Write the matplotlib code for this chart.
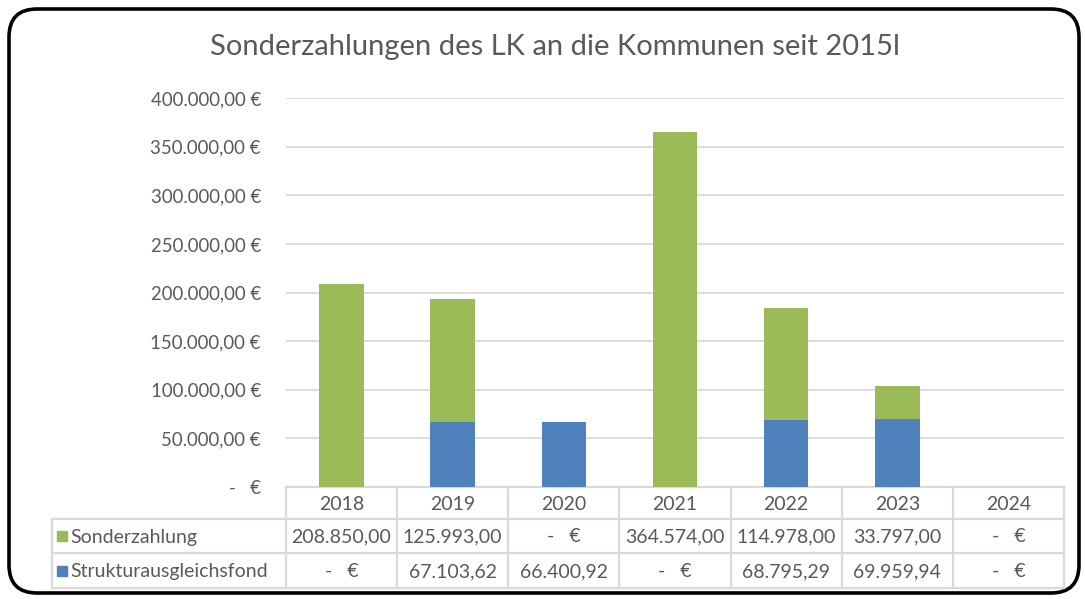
import matplotlib
matplotlib.use("Agg")
import matplotlib.pyplot as plt
from matplotlib.patches import FancyBboxPatch, Rectangle
from matplotlib.ticker import FuncFormatter

plt.rcParams['font.family'] = ['Lato', 'DejaVu Sans']

# Daten
jahre = ['2018', '2019', '2020', '2021', '2022', '2023', '2024']
sonderzahlung = [208850.00, 125993.00, 0, 364574.00, 114978.00, 33797.00, 0]
struktur = [0, 67103.62, 66400.92, 0, 68795.29, 69959.94, 0]
reihen = ['Sonderzahlung', 'Strukturausgleichsfond']
titel = 'Sonderzahlungen des LK an die Kommunen seit 2015l'

GRUEN = '#9BBB59'
BLAU = '#4F81BD'
TEXT = '#595959'
LINIE = '#D9D9D9'

W, H = 1085, 599


def de_zahl(v):
    s = f"{v:,.2f}"
    return s.replace(',', 'X').replace('.', ',').replace('X', '.')


def zelle(v):
    return '-   €' if v == 0 else de_zahl(v)


def achse(v, pos):
    return '-   €' if v == 0 else de_zahl(v) + ' €'


fig = plt.figure(figsize=(W / 100, H / 100), dpi=100)

# Hintergrund-Achse in Pixelkoordinaten
bg = fig.add_axes([0, 0, 1, 1])
bg.set_xlim(0, W)
bg.set_ylim(H, 0)
bg.axis('off')

rahmen = FancyBboxPatch((9, 9), 1070, 584, boxstyle='round,pad=0,rounding_size=28',
                        fc='white', ec='black', lw=2.6)
bg.add_patch(rahmen)

bg.text(555, 47, titel, ha='center', va='center', fontsize=21, color=TEXT)

# Plotbereich
links, rechts = 286, 1064
oben, null = 98, 487
ax = fig.add_axes([links / W, (H - null) / H, (rechts - links) / W, (null - oben) / H])
ax.patch.set_alpha(0)
x = range(len(jahre))
ax.bar(x, struktur, width=0.4, color=BLAU, zorder=3)
ax.bar(x, sonderzahlung, width=0.4, bottom=struktur, color=GRUEN, zorder=3)
ax.set_xlim(-0.5, len(jahre) - 0.5)
ax.set_ylim(0, 400000)
ax.set_yticks(range(0, 400001, 50000))
ax.yaxis.set_major_formatter(FuncFormatter(achse))
ax.yaxis.grid(True, color=LINIE, lw=1.3, zorder=0)
ax.set_xticks([])
ax.tick_params(axis='y', length=0, pad=18, labelsize=13.4, labelcolor=TEXT)
for s in ax.spines.values():
    s.set_visible(False)

# Datentabelle
spalte = (rechts - links) / len(jahre)
zeilen = [487, 519, 553, 588]
tab_links = 52
lw = 1.6
# horizontale Linien
bg.plot([links, rechts], [zeilen[0], zeilen[0]], color=LINIE, lw=lw)
for y in zeilen[1:]:
    bg.plot([tab_links, rechts], [y, y], color=LINIE, lw=lw)
# vertikale Linien
bg.plot([tab_links, tab_links], [zeilen[1], zeilen[3]], color=LINIE, lw=lw)
for i in range(len(jahre) + 1):
    xs = links + i * spalte
    bg.plot([xs, xs], [zeilen[0], zeilen[3]], color=LINIE, lw=lw)

fs = 14
for i, j in enumerate(jahre):
    xc = links + (i + 0.5) * spalte
    bg.text(xc, (zeilen[0] + zeilen[1]) / 2 + 1, j, ha='center', va='center',
            fontsize=fs, color=TEXT)
    bg.text(xc, (zeilen[1] + zeilen[2]) / 2 + 1, zelle(sonderzahlung[i]), ha='center',
            va='center', fontsize=fs, color=TEXT)
    bg.text(xc, (zeilen[2] + zeilen[3]) / 2 + 1, zelle(struktur[i]), ha='center',
            va='center', fontsize=fs, color=TEXT)

for k, (name, farbe) in enumerate(zip(reihen, [GRUEN, BLAU])):
    yc = (zeilen[k + 1] + zeilen[k + 2]) / 2
    bg.add_patch(Rectangle((57, yc - 5), 10, 10, color=farbe))
    bg.text(70, yc + 1, name, ha='left', va='center', fontsize=fs, color=TEXT)

fig.savefig('out.png', dpi=100)
